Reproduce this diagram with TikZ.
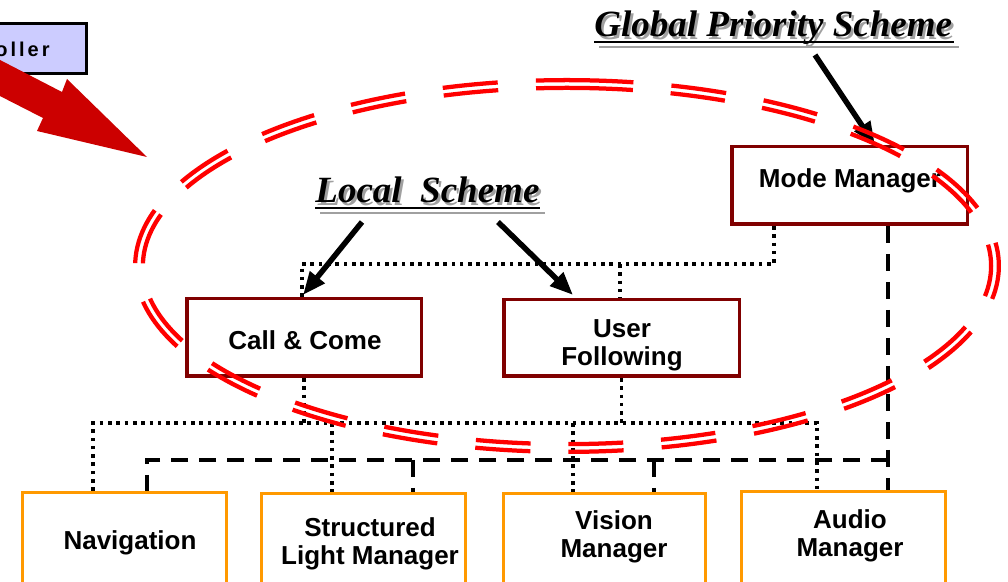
\documentclass[tikz,border=0pt]{standalone}
\usepackage{fontspec}
\setmainfont{Liberation Serif}
\newfontfamily\boxfont{Liberation Sans}
\newfontfamily\ctlfont[LetterSpace=15]{Liberation Sans}
\usetikzlibrary{arrows.meta}
\definecolor{maroonline}{HTML}{800000}
\definecolor{orangeline}{HTML}{FF9900}
\definecolor{ctlfill}{HTML}{CCCCFF}
\definecolor{bigred}{HTML}{CC0000}
\definecolor{loopred}{HTML}{FF0000}
\definecolor{shadowgray}{HTML}{A0A0A0}

\begin{document}
\begin{tikzpicture}[x=0.5pt,y=-0.5pt,
  modebox/.style={draw=maroonline,line width=1.75pt,fill=white,rectangle,inner sep=0pt},
  unitbox/.style={draw=orangeline,line width=1.5pt,fill=white,rectangle,inner sep=0pt},
  lbl/.style={font=\boxfont\bfseries\fontsize{13}{14.25}\selectfont,align=center,inner sep=0pt,anchor=base},
  titletext/.style={font=\bfseries\itshape\fontsize{18.5}{22}\selectfont,inner sep=0pt,anchor=base west},
  bigarrow/.style={line width=2.75pt,-{Triangle[length=11.5pt,width=9pt]}},
  dotline/.style={line width=1.8pt,dash pattern=on 1.8pt off 2.35pt},
  dashline/.style={line width=1.75pt,dash pattern=on 8.5pt off 5.5pt}
]
\useasboundingbox[fill=white] (0,0) rectangle (1008,582);

% controller box, cut by the left edge
\node[draw=black,line width=1.65pt,fill=ctlfill,rectangle,inner sep=0pt,
      minimum width=52.35pt,minimum height=24.85pt] (ctlbox) at (34,48.5) {};
\node[font=\ctlfont\bfseries\fontsize{10}{12}\selectfont,anchor=base east,inner sep=0pt]
      (ctltext) at (50,57) {oller};

% broad red arrow
\fill[bigred] (-5,57.4) -- (62,92) -- (67,79) -- (147,157) -- (37,131) -- (43,118) -- (-5,93.5) -- cycle;

% manager boxes
\node[modebox,minimum width=117.75pt,minimum height=38.75pt] (mode) at (849.5,185.5) {};
\node[modebox,minimum width=117.25pt,minimum height=38.75pt] (call) at (304,337.5) {};
\node[modebox,minimum width=117.75pt,minimum height=38.25pt] (user) at (621.5,338) {};

% module boxes (running past the bottom edge)
\node[unitbox,minimum width=102pt,minimum height=63pt] (nav) at (124.5,555.5) {};
\node[unitbox,minimum width=102pt,minimum height=63pt] (struct) at (363.5,556.5) {};
\node[unitbox,minimum width=101pt,minimum height=63pt] (vision) at (604.5,556.5) {};
\node[unitbox,minimum width=102pt,minimum height=63pt] (audio) at (843.5,554.5) {};

% labels (base anchor sits on the last line)
\node[lbl] (modeT) at (850,188) {Mode Manager};
\node[lbl] (callT) at (305,350) {Call \& Come};
\node[lbl] (userT) at (622,366) {User\\Following};
\node[lbl] (navT) at (130,550) {Navigation};
\node[lbl] (structT) at (370,565) {Structured\\Light Manager};
\node[lbl] (visT) at (614,558) {Vision\\Manager};
\node[lbl] (audT) at (850,557) {Audio\\Manager};

% dotted links: mode manager to local schemes
\coordinate (mmL) at (774,264);
\coordinate (ccT) at (302,264);
\coordinate (ufT) at (620,264);
\draw[dotline] (mode.south -| mmL) -- (mmL) -- (ccT) -- (call.north -| ccT);
\draw[dotline] (ufT) -- (user.north -| ufT);

% dotted links: local schemes to modules
\coordinate (bl) at (93,423);
\coordinate (br) at (817,423);
\coordinate (bs) at (332,423);
\coordinate (bv) at (573,423);
\draw[dotline] (nav.north -| bl) -- (bl) -- (br) -- (audio.north -| br);
\draw[dotline] (call.south) -- (call.south |- bl);
\draw[dotline] (user.south) -- (user.south |- bl);
\draw[dotline] (bs) -- (struct.north -| bs);
\draw[dotline] (bv) -- (vision.north -| bv);

% dashed links: mode manager straight to modules
\coordinate (hr) at (888,460);
\coordinate (hl) at (147,460);
\coordinate (hs) at (413,460);
\coordinate (hv) at (654,460);
\draw[dashline] (mode.south -| hr) -- (audio.north -| hr);
\draw[dashline] (hr) -- (hl) -- (nav.north -| hl);
\draw[dashline] (hs) -- (struct.north -| hs);
\draw[dashline] (hv) -- (vision.north -| hv);

% titles with drop shadow and underline
\node[titletext,text=shadowgray] (gpsS) at (596.5,39.5) {Global Priority Scheme};
\draw[shadowgray,line width=1pt] ([xshift=1.25pt,yshift=-3.75pt]gpsS.base west) -- ([xshift=2pt,yshift=-3.75pt]gpsS.base east);
\node[titletext] (gps) at (594,37) {Global Priority Scheme};
\draw[line width=1pt] ([yshift=-2.5pt]gps.base west) -- ([xshift=1pt,yshift=-2.5pt]gps.base east);

\node[titletext,text=shadowgray] (lsS) at (317.5,205.5) {Local\ \ Scheme};
\draw[shadowgray,line width=1pt] ([xshift=1.25pt,yshift=-3.75pt]lsS.base west) -- ([xshift=1.25pt,yshift=-3.75pt]lsS.base east);
\node[titletext] (ls) at (315,203) {Local\ \ Scheme};
\draw[line width=1pt] ([yshift=-2.5pt]ls.base west) -- ([yshift=-2.5pt]ls.base east);

% pointer arrows
\coordinate (ga0) at (815,55);
\coordinate (ga1) at (875,145);
\coordinate (la0) at (362,222);
\coordinate (la1) at (303,295);
\coordinate (ra0) at (498,222);
\coordinate (ra1) at (573,295);
\draw[bigarrow] (ga0) -- (ga1);
\draw[bigarrow] (la0) -- (la1);
\draw[bigarrow] (ra0) -- (ra1);

% double dashed red loop: a wide dashed stroke with its middle band clipped away
\begin{scope}[even odd rule]
  \clip (-20,-20) rectangle (1030,610)
    (567,266) ellipse [x radius=429.75, y radius=183.75]
    (567,266) ellipse [x radius=426.25, y radius=180.25];
  \draw[loopred,line width=6pt,dash pattern=on 27.5pt off 19pt]
    (578.2,84.06) arc[start angle=271.5, end angle=631.5, x radius=428, y radius=182];
\end{scope}
\end{tikzpicture}
\end{document}
